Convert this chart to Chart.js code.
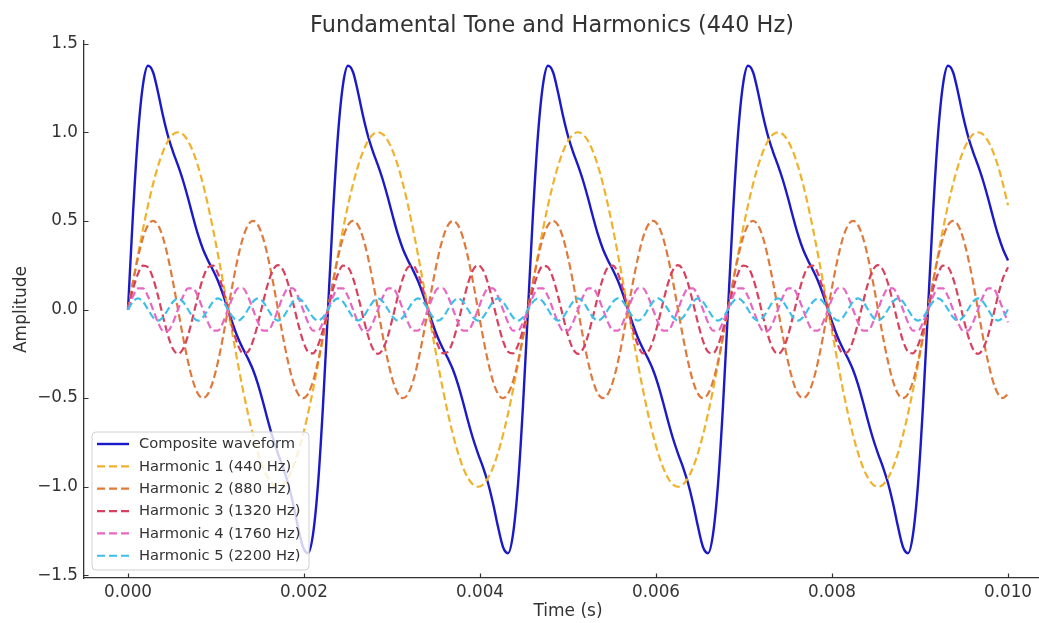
<!DOCTYPE html>
<html>
<head>
<meta charset="utf-8">
<script src="https://cdn.jsdelivr.net/npm/chart.js@4.4.1/dist/chart.umd.min.js"></script>
<style>
  html, body { margin: 0; padding: 0; background: #ffffff; overflow: hidden; width: 1039px; height: 623px; }
  #wrap { position: absolute; left: 0; top: 0; width: 1060px; height: 623px; }
  canvas { display: block; }
</style>
</head>
<body>
<div id="wrap"><canvas id="c" width="1060" height="623"></canvas></div>
<script>
// ---------- data (time in milliseconds) ----------
const timeMs = [
  0,0.0568,0.1136,0.1705,0.2273,0.2841,0.3409,0.3977,0.4545,0.5114,0.5682,0.625,0.6818,0.7386,0.7955,0.8523,0.9091,0.9659,1.0227,1.0795,1.1364,1.1932,1.25,1.3068,1.3636,1.4205,1.4773,1.5341,1.5909,1.6477,1.7045,1.7614,1.8182,1.875,1.9318,1.9886,2.0455,2.1023,2.1591,2.2159,
  2.2727,2.3295,2.3864,2.4432,2.5,2.5568,2.6136,2.6705,2.7273,2.7841,2.8409,2.8977,2.9545,3.0114,3.0682,3.125,3.1818,3.2386,3.2955,3.3523,3.4091,3.4659,3.5227,3.5795,3.6364,3.6932,3.75,3.8068,3.8636,3.9205,3.9773,4.0341,4.0909,4.1477,4.2045,4.2614,4.3182,4.375,4.4318,4.4886,
  4.5455,4.6023,4.6591,4.7159,4.7727,4.8295,4.8864,4.9432,5,5.0568,5.1136,5.1705,5.2273,5.2841,5.3409,5.3977,5.4545,5.5114,5.5682,5.625,5.6818,5.7386,5.7955,5.8523,5.9091,5.9659,6.0227,6.0795,6.1364,6.1932,6.25,6.3068,6.3636,6.4205,6.4773,6.5341,6.5909,6.6477,6.7045,6.7614,
  6.8182,6.875,6.9318,6.9886,7.0455,7.1023,7.1591,7.2159,7.2727,7.3295,7.3864,7.4432,7.5,7.5568,7.6136,7.6705,7.7273,7.7841,7.8409,7.8977,7.9545,8.0114,8.0682,8.125,8.1818,8.2386,8.2955,8.3523,8.4091,8.4659,8.5227,8.5795,8.6364,8.6932,8.75,8.8068,8.8636,8.9205,8.9773,9.0341,
  9.0909,9.1477,9.2045,9.2614,9.3182,9.375,9.4318,9.4886,9.5455,9.6023,9.6591,9.7159,9.7727,9.8295,9.8864,9.9432,10
];

const composite = [
  0,0.542,0.987,1.269,1.375,1.340,1.226,1.093,0.979,0.890,0.813,0.728,0.629,0.522,0.422,0.340,0.277,0.222,0.161,0.086,0,-0.086,-0.161,-0.222,-0.277,-0.340,-0.422,-0.522,-0.629,-0.728,-0.813,-0.890,-0.979,-1.093,-1.226,-1.340,-1.375,-1.269,-0.987,-0.542,
  0,0.542,0.987,1.269,1.375,1.340,1.226,1.093,0.979,0.890,0.813,0.728,0.629,0.522,0.422,0.340,0.277,0.222,0.161,0.086,0,-0.086,-0.161,-0.222,-0.277,-0.340,-0.422,-0.522,-0.629,-0.728,-0.813,-0.890,-0.979,-1.093,-1.226,-1.340,-1.375,-1.269,-0.987,-0.542,
  0,0.542,0.987,1.269,1.375,1.340,1.226,1.093,0.979,0.890,0.813,0.728,0.629,0.522,0.422,0.340,0.277,0.222,0.161,0.086,0,-0.086,-0.161,-0.222,-0.277,-0.340,-0.422,-0.522,-0.629,-0.728,-0.813,-0.890,-0.979,-1.093,-1.226,-1.340,-1.375,-1.269,-0.987,-0.542,
  0,0.542,0.987,1.269,1.375,1.340,1.226,1.093,0.979,0.890,0.813,0.728,0.629,0.522,0.422,0.340,0.277,0.222,0.161,0.086,0,-0.086,-0.161,-0.222,-0.277,-0.340,-0.422,-0.522,-0.629,-0.728,-0.813,-0.890,-0.979,-1.093,-1.226,-1.340,-1.375,-1.269,-0.987,-0.542,
  0,0.542,0.987,1.269,1.375,1.340,1.226,1.093,0.979,0.890,0.813,0.728,0.629,0.522,0.422,0.340,0.277
];

const harmonic1 = [
  0,0.156,0.309,0.454,0.588,0.707,0.809,0.891,0.951,0.988,1,0.988,0.951,0.891,0.809,0.707,0.588,0.454,0.309,0.156,0,-0.156,-0.309,-0.454,-0.588,-0.707,-0.809,-0.891,-0.951,-0.988,-1,-0.988,-0.951,-0.891,-0.809,-0.707,-0.588,-0.454,-0.309,-0.156,
  0,0.156,0.309,0.454,0.588,0.707,0.809,0.891,0.951,0.988,1,0.988,0.951,0.891,0.809,0.707,0.588,0.454,0.309,0.156,0,-0.156,-0.309,-0.454,-0.588,-0.707,-0.809,-0.891,-0.951,-0.988,-1,-0.988,-0.951,-0.891,-0.809,-0.707,-0.588,-0.454,-0.309,-0.156,
  0,0.156,0.309,0.454,0.588,0.707,0.809,0.891,0.951,0.988,1,0.988,0.951,0.891,0.809,0.707,0.588,0.454,0.309,0.156,0,-0.156,-0.309,-0.454,-0.588,-0.707,-0.809,-0.891,-0.951,-0.988,-1,-0.988,-0.951,-0.891,-0.809,-0.707,-0.588,-0.454,-0.309,-0.156,
  0,0.156,0.309,0.454,0.588,0.707,0.809,0.891,0.951,0.988,1,0.988,0.951,0.891,0.809,0.707,0.588,0.454,0.309,0.156,0,-0.156,-0.309,-0.454,-0.588,-0.707,-0.809,-0.891,-0.951,-0.988,-1,-0.988,-0.951,-0.891,-0.809,-0.707,-0.588,-0.454,-0.309,-0.156,
  0,0.156,0.309,0.454,0.588,0.707,0.809,0.891,0.951,0.988,1,0.988,0.951,0.891,0.809,0.707,0.588
];

const harmonic2 = [
  0,0.155,0.294,0.405,0.476,0.5,0.476,0.405,0.294,0.155,0,-0.155,-0.294,-0.405,-0.476,-0.5,-0.476,-0.405,-0.294,-0.155,
  0,0.155,0.294,0.405,0.476,0.5,0.476,0.405,0.294,0.155,0,-0.155,-0.294,-0.405,-0.476,-0.5,-0.476,-0.405,-0.294,-0.155,
  0,0.155,0.294,0.405,0.476,0.5,0.476,0.405,0.294,0.155,0,-0.155,-0.294,-0.405,-0.476,-0.5,-0.476,-0.405,-0.294,-0.155,
  0,0.155,0.294,0.405,0.476,0.5,0.476,0.405,0.294,0.155,0,-0.155,-0.294,-0.405,-0.476,-0.5,-0.476,-0.405,-0.294,-0.155,
  0,0.155,0.294,0.405,0.476,0.5,0.476,0.405,0.294,0.155,0,-0.155,-0.294,-0.405,-0.476,-0.5,-0.476,-0.405,-0.294,-0.155,
  0,0.155,0.294,0.405,0.476,0.5,0.476,0.405,0.294,0.155,0,-0.155,-0.294,-0.405,-0.476,-0.5,-0.476,-0.405,-0.294,-0.155,
  0,0.155,0.294,0.405,0.476,0.5,0.476,0.405,0.294,0.155,0,-0.155,-0.294,-0.405,-0.476,-0.5,-0.476,-0.405,-0.294,-0.155,
  0,0.155,0.294,0.405,0.476,0.5,0.476,0.405,0.294,0.155,0,-0.155,-0.294,-0.405,-0.476,-0.5,-0.476,-0.405,-0.294,-0.155,
  0,0.155,0.294,0.405,0.476,0.5,0.476,0.405,0.294,0.155,0,-0.155,-0.294,-0.405,-0.476,-0.5,-0.476
];

const harmonic3 = [
  0,0.114,0.202,0.247,0.238,0.177,0.077,-0.039,-0.147,-0.223,-0.25,-0.223,-0.147,-0.039,0.077,0.177,0.238,0.247,0.202,0.114,0,-0.114,-0.202,-0.247,-0.238,-0.177,-0.077,0.039,0.147,0.223,0.25,0.223,0.147,0.039,-0.077,-0.177,-0.238,-0.247,-0.202,-0.114,
  0,0.114,0.202,0.247,0.238,0.177,0.077,-0.039,-0.147,-0.223,-0.25,-0.223,-0.147,-0.039,0.077,0.177,0.238,0.247,0.202,0.114,0,-0.114,-0.202,-0.247,-0.238,-0.177,-0.077,0.039,0.147,0.223,0.25,0.223,0.147,0.039,-0.077,-0.177,-0.238,-0.247,-0.202,-0.114,
  0,0.114,0.202,0.247,0.238,0.177,0.077,-0.039,-0.147,-0.223,-0.25,-0.223,-0.147,-0.039,0.077,0.177,0.238,0.247,0.202,0.114,0,-0.114,-0.202,-0.247,-0.238,-0.177,-0.077,0.039,0.147,0.223,0.25,0.223,0.147,0.039,-0.077,-0.177,-0.238,-0.247,-0.202,-0.114,
  0,0.114,0.202,0.247,0.238,0.177,0.077,-0.039,-0.147,-0.223,-0.25,-0.223,-0.147,-0.039,0.077,0.177,0.238,0.247,0.202,0.114,0,-0.114,-0.202,-0.247,-0.238,-0.177,-0.077,0.039,0.147,0.223,0.25,0.223,0.147,0.039,-0.077,-0.177,-0.238,-0.247,-0.202,-0.114,
  0,0.114,0.202,0.247,0.238,0.177,0.077,-0.039,-0.147,-0.223,-0.25,-0.223,-0.147,-0.039,0.077,0.177,0.238
];

const harmonic4 = [
  0,0.073,0.119,0.119,0.073,0,-0.073,-0.119,-0.119,-0.073,
  0,0.073,0.119,0.119,0.073,0,-0.073,-0.119,-0.119,-0.073,
  0,0.073,0.119,0.119,0.073,0,-0.073,-0.119,-0.119,-0.073,
  0,0.073,0.119,0.119,0.073,0,-0.073,-0.119,-0.119,-0.073,
  0,0.073,0.119,0.119,0.073,0,-0.073,-0.119,-0.119,-0.073,
  0,0.073,0.119,0.119,0.073,0,-0.073,-0.119,-0.119,-0.073,
  0,0.073,0.119,0.119,0.073,0,-0.073,-0.119,-0.119,-0.073,
  0,0.073,0.119,0.119,0.073,0,-0.073,-0.119,-0.119,-0.073,
  0,0.073,0.119,0.119,0.073,0,-0.073,-0.119,-0.119,-0.073,
  0,0.073,0.119,0.119,0.073,0,-0.073,-0.119,-0.119,-0.073,
  0,0.073,0.119,0.119,0.073,0,-0.073,-0.119,-0.119,-0.073,
  0,0.073,0.119,0.119,0.073,0,-0.073,-0.119,-0.119,-0.073,
  0,0.073,0.119,0.119,0.073,0,-0.073,-0.119,-0.119,-0.073,
  0,0.073,0.119,0.119,0.073,0,-0.073,-0.119,-0.119,-0.073,
  0,0.073,0.119,0.119,0.073,0,-0.073,-0.119,-0.119,-0.073,
  0,0.073,0.119,0.119,0.073,0,-0.073,-0.119,-0.119,-0.073,
  0,0.073,0.119,0.119,0.073,0,-0.073,-0.119,-0.119,-0.073,
  0,0.073,0.119,0.119,0.073,0,-0.073
];

const harmonic5 = [
  0,0.044,0.0625,0.044,0,-0.044,-0.0625,-0.044, 0,0.044,0.0625,0.044,0,-0.044,-0.0625,-0.044,
  0,0.044,0.0625,0.044,0,-0.044,-0.0625,-0.044, 0,0.044,0.0625,0.044,0,-0.044,-0.0625,-0.044,
  0,0.044,0.0625,0.044,0,-0.044,-0.0625,-0.044, 0,0.044,0.0625,0.044,0,-0.044,-0.0625,-0.044,
  0,0.044,0.0625,0.044,0,-0.044,-0.0625,-0.044, 0,0.044,0.0625,0.044,0,-0.044,-0.0625,-0.044,
  0,0.044,0.0625,0.044,0,-0.044,-0.0625,-0.044, 0,0.044,0.0625,0.044,0,-0.044,-0.0625,-0.044,
  0,0.044,0.0625,0.044,0,-0.044,-0.0625,-0.044, 0,0.044,0.0625,0.044,0,-0.044,-0.0625,-0.044,
  0,0.044,0.0625,0.044,0,-0.044,-0.0625,-0.044, 0,0.044,0.0625,0.044,0,-0.044,-0.0625,-0.044,
  0,0.044,0.0625,0.044,0,-0.044,-0.0625,-0.044, 0,0.044,0.0625,0.044,0,-0.044,-0.0625,-0.044,
  0,0.044,0.0625,0.044,0,-0.044,-0.0625,-0.044, 0,0.044,0.0625,0.044,0,-0.044,-0.0625,-0.044,
  0,0.044,0.0625,0.044,0,-0.044,-0.0625,-0.044, 0,0.044,0.0625,0.044,0,-0.044,-0.0625,-0.044,
  0,0.044,0.0625,0.044,0,-0.044,-0.0625,-0.044, 0,0.044,0.0625,0.044,0,-0.044,-0.0625,-0.044,
  0
];

const seriesLabels = [
  'Composite waveform',
  'Harmonic 1 (440 Hz)',
  'Harmonic 2 (880 Hz)',
  'Harmonic 3 (1320 Hz)',
  'Harmonic 4 (1760 Hz)',
  'Harmonic 5 (2200 Hz)'
];
const seriesValues = [composite, harmonic1, harmonic2, harmonic3, harmonic4, harmonic5];

const xTickValues = [0, 2, 4, 6, 8, 10];            // ms
const xTickLabels = ['0.000', '0.002', '0.004', '0.006', '0.008', '0.010'];
const yTickValues = [-1.5, -1.0, -0.5, 0, 0.5, 1.0, 1.5];
const yTickLabels = ['\u22121.5', '\u22121.0', '\u22120.5', '0.0', '0.5', '1.0', '1.5'];

const chartTitle = 'Fundamental Tone and Harmonics (440 Hz)';
const xAxisTitle = 'Time (s)';
const yAxisTitle = 'Amplitude';

// ---------- styles ----------
const colors = ['#1a1ac8', '#f0b22a', '#e07a3c', '#d8405e', '#e866c4', '#3ebfe8'];
const FONT = '"DejaVu Sans", "Liberation Sans", sans-serif';
const TEXT = '#333333';
const DASH = [7.5, 3.8];

const datasets = seriesValues.map((vals, i) => ({
  label: seriesLabels[i],
  data: timeMs.map((t, j) => ({ x: t, y: vals[j] })),
  borderColor: colors[i],
  backgroundColor: colors[i],
  borderWidth: i === 0 ? 2.4 : 2.2,
  borderDash: i === 0 ? [] : DASH,
  pointRadius: 0,
  fill: false,
  cubicInterpolationMode: 'monotone',
  order: 6 - i
}));

const decor = {
  id: 'decor',
  afterDraw(chart) {
    const ctx = chart.ctx;
    const area = chart.chartArea;
    const xs = chart.scales.x, ys = chart.scales.y;
    ctx.save();
    // inward tick marks
    ctx.strokeStyle = '#333333';
    ctx.lineWidth = 1.2;
    ctx.beginPath();
    yTickValues.forEach(v => {
      const y = Math.round(ys.getPixelForValue(v)) + 0.5;
      ctx.moveTo(area.left, y); ctx.lineTo(area.left + 4.5, y);
    });
    xTickValues.forEach(v => {
      const x = Math.round(xs.getPixelForValue(v)) + 0.5;
      ctx.moveTo(x, area.bottom); ctx.lineTo(x, area.bottom - 4.5);
    });
    ctx.stroke();

    // title
    ctx.fillStyle = TEXT;
    ctx.font = '22.4px ' + FONT;
    ctx.textAlign = 'center';
    ctx.textBaseline = 'alphabetic';
    ctx.fillText(chartTitle, 552, 32);

    // axis titles
    ctx.font = '17px ' + FONT;
    ctx.fillText(xAxisTitle, (area.left + area.right) / 2, 616);
    ctx.save();
    ctx.translate(26, (area.top + area.bottom) / 2);
    ctx.rotate(-Math.PI / 2);
    ctx.textBaseline = 'alphabetic';
    ctx.fillText(yAxisTitle, 0, 0);
    ctx.restore();

    // legend
    const bx = 92, by = 432, bw = 217, bh = 138, r = 4;
    ctx.beginPath();
    ctx.moveTo(bx + r, by);
    ctx.arcTo(bx + bw, by, bx + bw, by + bh, r);
    ctx.arcTo(bx + bw, by + bh, bx, by + bh, r);
    ctx.arcTo(bx, by + bh, bx, by, r);
    ctx.arcTo(bx, by, bx + bw, by, r);
    ctx.closePath();
    ctx.fillStyle = 'rgba(255,255,255,0.8)';
    ctx.fill();
    ctx.strokeStyle = '#d0d0d0';
    ctx.lineWidth = 1;
    ctx.stroke();

    ctx.font = '14.7px ' + FONT;
    ctx.textAlign = 'left';
    ctx.textBaseline = 'middle';
    seriesLabels.forEach((lab, i) => {
      const y = 444 + i * 22.35;
      ctx.beginPath();
      ctx.strokeStyle = colors[i];
      ctx.lineWidth = i === 0 ? 2.4 : 2.2;
      ctx.setLineDash(i === 0 ? [] : [8, 4]);
      ctx.moveTo(97, y); ctx.lineTo(129, y);
      ctx.stroke();
      ctx.setLineDash([]);
      ctx.fillStyle = TEXT;
      ctx.fillText(lab, 139, y + 0.5);
    });
    ctx.restore();
  }
};

new Chart(document.getElementById('c'), {
  type: 'line',
  data: { datasets },
  options: {
    responsive: false,
    devicePixelRatio: 1,
    animation: false,
    layout: { padding: { top: 41, right: 8, bottom: 0, left: 0 } },
    plugins: { legend: { display: false }, title: { display: false }, tooltip: { enabled: false } },
    scales: {
      x: {
        type: 'linear',
        min: -0.5, max: 10.5,
        afterBuildTicks: s => { s.ticks = xTickValues.map(v => ({ value: v })); },
        afterFit: s => { s.height = 45; },
        grid: { display: false, drawTicks: false },
        border: { display: true, color: '#333333', width: 1.3 },
        ticks: {
          padding: 5,
          color: TEXT,
          font: { family: FONT, size: 16.8 },
          maxRotation: 0,
          callback: (v, i) => xTickLabels[i]
        }
      },
      y: {
        type: 'linear',
        min: -1.515, max: 1.515,
        afterBuildTicks: s => { s.ticks = yTickValues.map(v => ({ value: v })); },
        afterFit: s => { s.width = 84; },
        grid: { display: false, drawTicks: false },
        border: { display: true, color: '#333333', width: 1.3 },
        ticks: {
          padding: 6,
          color: TEXT,
          font: { family: FONT, size: 16.8 },
          callback: (v, i) => yTickLabels[i]
        }
      }
    }
  },
  plugins: [decor]
});
</script>
</body>
</html>
